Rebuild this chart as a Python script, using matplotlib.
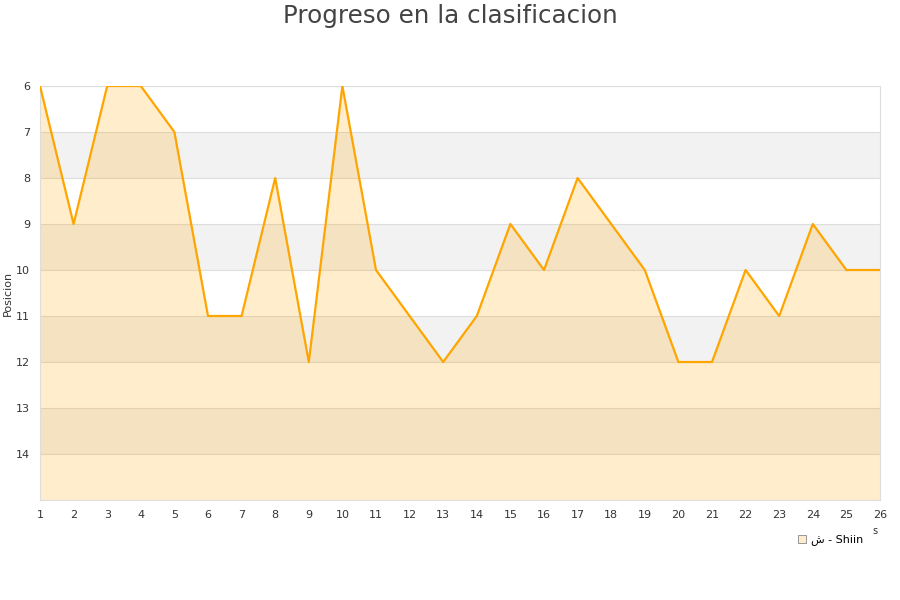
import matplotlib
matplotlib.use("Agg")
import numpy as np
from matplotlib import pyplot as plt
from matplotlib.lines import Line2D

plt.rcParams['font.family'] = ['DejaVu Sans']

jornadas = list(range(1, 27))
posicion = [6, 9, 6, 6, 7, 11, 11, 8, 12, 6, 10, 11, 12, 11, 9, 10, 8, 9, 10, 12, 12, 10, 11, 9, 10, 10]
serie = "ش - Shiin"
titulo = "Progreso en la clasificacion"

fig = plt.figure(figsize=(9, 6), dpi=100)
ax = fig.add_axes([40/900, 100/600, 840/900, 414/600])

# striped background
for y0 in [7, 9, 11, 13]:
    ax.axhspan(y0, y0 + 1, color="#f2f2f2", zorder=0, lw=0)
for y in range(6, 15):
    ax.axhline(y, color="#dddddd", lw=0.8, zorder=1)

ax.fill_between(jornadas, posicion, 15, color="#ffa500", alpha=0.2, lw=0, zorder=2)
ax.plot(jornadas, posicion, color="#ffa500", lw=1.6, zorder=3)

ax.set_xlim(1, 26)
ax.set_ylim(15, 6)
ax.set_xticks(jornadas)
ax.set_yticks(range(6, 15))
ax.tick_params(length=0, labelsize=8, colors="#333333", pad=7)
for s in ["left", "right", "bottom", "top"]:
    ax.spines[s].set_color("#dddddd")
ax.spines["top"].set_visible(False)
ax.set_ylabel("Posicion", fontsize=8, color="#333333", labelpad=2)

fig.text(0.5, 1 - 16/600, titulo, ha="center", va="center", fontsize=17.7, color="#444444")
fig.text(875/900, 1 - 531/600, "s", ha="center", va="center", fontsize=7, color="#333333")

handle = Line2D([], [], marker="s", ls="", markersize=6, markerfacecolor="#ffeccc",
                markeredgecolor="#888888", markeredgewidth=0.6)
fig.legend([handle], [serie], loc="center", bbox_to_anchor=(830/900, 1 - 540/600),
           frameon=False, fontsize=8, handletextpad=0.3, handlelength=1)

fig.savefig("out.png", dpi=100)
